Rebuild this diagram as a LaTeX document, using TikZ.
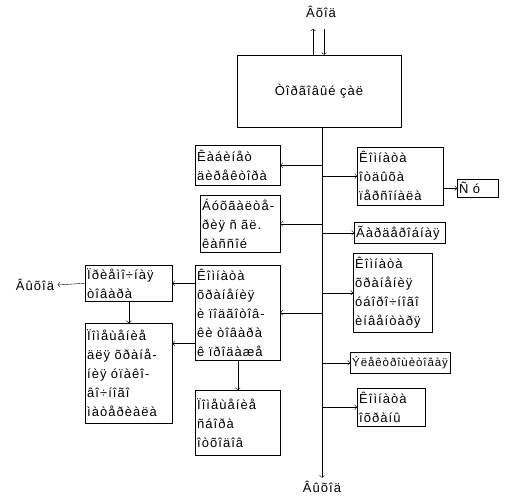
\documentclass[tikz,border=0pt]{standalone}
\usepackage{fontspec}
\setmainfont{Liberation Sans}[LetterSpace=8]
\usetikzlibrary{arrows.meta}

\begin{document}
\begin{tikzpicture}[x=1pt,y=-1pt,
  room/.style={draw, anchor=north west, align=left, inner xsep=2pt, inner ysep=1pt,
    font=\fontsize{13}{19}\selectfont},
  lbl/.style={font=\fontsize{13}{19}\selectfont}]
\useasboundingbox (0,0) rectangle (510,503);
% entrance, hall and exit
\node[lbl] (in) at (321,12) {Âõîä};
\node[draw, minimum width=164, minimum height=72, lbl] (hall) at (319,91) {Òîðãîâûé çàë};
\node[lbl] (out) at (322,487) {Âûõîä};
\draw[->] ([xshift=-6pt]hall.north) -- ++(0,-26);
\draw[<-] ([xshift=5pt]hall.north) -- ++(0,-26);
\draw[->] (hall.south -| out.north) -- (out.north);
% rooms on the left
\node[room, text width=81, minimum height=40] (office) at (195,145) {Êàáèíåò\\äèðåêòîðà};
\node[room, text width=76, minimum height=57] (acc) at (200,195) {Áóõãàëòå-\\ðèÿ ñ ãë.\\êàññîé};
\node[room, text width=81, minimum height=95] (storage) at (195,265) {Êîìíàòà\\õðàíåíèÿ\\è ïîäãîòîâ-\\êè òîâàðà\\ê ïðîäàæå};
\node[room, text width=81, minimum height=65] (waste) at (195,390) {Ïîìåùåíèå\\ñáîðà\\îòõîäîâ};
\node[room, text width=83, minimum height=36] (recep) at (85,265) {Ïðèåìî÷íàÿ\\òîâàðà};
\node[room, text width=83, minimum height=100] (pack) at (85,323) {Ïîìåùåíèå\\äëÿ õðàíå-\\íèÿ óïàêî-\\âî÷íîãî\\ìàòåðèàëà};
\node[lbl] (outl) at (35,285) {Âûõîä};
% rooms on the right
\node[room, text width=82, minimum height=58] (rest) at (357,147) {Êîìíàòà\\îòäûõà\\ïåðñîíàëà};
\node[room, text width=37, minimum height=18] (wc) at (457,179) {Ñ ó};
\node[room, text width=87, minimum height=21] (gard) at (354,222) {Ãàðäåðîáíàÿ};
\node[room, text width=75, minimum height=79] (clean) at (353,253) {Êîìíàòà\\õðàíåíèÿ\\óáîðî÷íîãî\\èíâåíòàðÿ};
\node[room, text width=96, minimum height=21, font=\fontsize{11.5}{19}\selectfont] (elec) at (350,352) {Ýëåêòðîùèòîâàÿ};
\node[room, text width=64, minimum height=38] (guard) at (357,388) {Êîìíàòà\\îõðàíû};
% connectors
\coordinate (packin) at ([yshift=30pt]pack.east);
\foreach \r in {office,acc,storage}
  \draw[->] (\r.east -| out.north) -- (\r.east);
\foreach \r in {rest,gard,clean,elec,guard}
  \draw[->] (\r.west -| out.north) -- (\r.west);
\draw[->] (wc.west -| rest.east) -- (wc.west);
\draw[->] (recep.east -| storage.west) -- (recep.east);
\draw[->] (packin -| storage.west) -- (packin);
\draw[->] (recep.west) -- (outl.east);
\draw[->] (recep.south) -- (pack.north);
\draw[->] (storage.south) -- (waste.north);
\end{tikzpicture}
\end{document}
